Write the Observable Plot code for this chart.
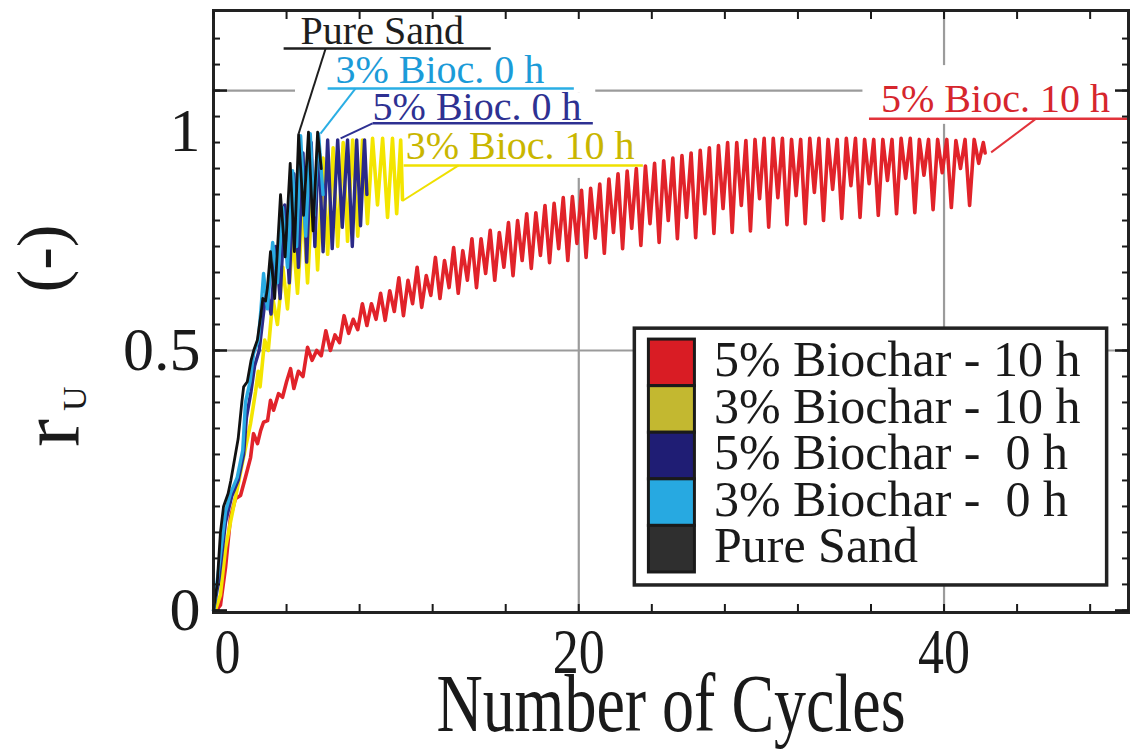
<!DOCTYPE html>
<html>
<head>
<meta charset="utf-8">
<script src="https://cdn.jsdelivr.net/npm/d3@7"></script>
<script src="https://cdn.jsdelivr.net/npm/@observablehq/plot@0.6"></script>
<style>
  html, body { margin: 0; padding: 0; background: #ffffff; }
  #chart svg { font-family: "Liberation Serif", "Times New Roman", serif; }
</style>
</head>
<body>
<div id="chart"></div>
<script>
// ---------------- DATA ----------------
const legendLabels = ["5% Biochar - 10 h", "3% Biochar - 10 h", "5% Biochar -\u00a0\u00a00 h", "3% Biochar -\u00a0\u00a00 h", "Pure Sand"];
const legendColors = ["#d91c24", "#c3b830", "#1f1d74", "#27a9e1", "#2f2f2f"];

// Pure sand
const sandCycles = [0, 0.2, 0.38, 0.55, 0.8, 0.95, 1.1, 1.35, 1.55, 1.65, 1.85, 2.05, 2.2, 2.4, 2.6, 2.7, 2.85, 2.95, 3.12, 3.35, 3.67, 3.92, 4.2, 4.43, 4.66, 4.93, 5.2, 5.45, 5.7, 5.9];
const sandRu     = [0, 0.05, 0.15, 0.2, 0.225, 0.25, 0.28, 0.33, 0.4, 0.43, 0.44, 0.48, 0.5, 0.52, 0.57, 0.6, 0.595, 0.62, 0.69, 0.6, 0.8, 0.68, 0.86, 0.69, 0.915, 0.76, 0.92, 0.73, 0.92, 0.85];

// 3% biochar, 0 h
const b3h0Cycles = [0, 0.25, 0.66, 0.93, 1.3, 1.6, 1.75, 2.0, 2.2, 2.45, 2.6, 2.74, 2.95, 3.24, 3.5, 3.78, 4.05, 4.33, 4.55, 4.77, 5.05, 5.3, 5.5, 5.75, 6.0];
const b3h0Ru     = [0, 0.07, 0.19, 0.225, 0.256, 0.308, 0.4, 0.44, 0.495, 0.52, 0.58, 0.648, 0.58, 0.708, 0.63, 0.775, 0.66, 0.846, 0.7, 0.913, 0.72, 0.917, 0.76, 0.917, 0.8];

// 5% biochar, 0 h
const b5h0Cycles = [0, 0.3, 0.66, 1.0, 1.35, 1.65, 1.8, 2.05, 2.25, 2.5, 2.7, 2.9, 3.15, 3.4, 3.65, 3.9, 4.15, 4.4, 4.65, 4.9, 5.1, 5.35, 5.55, 5.75, 6.0, 6.25, 6.5, 6.8, 7.05, 7.34, 7.6, 7.84, 8.05, 8.27, 8.4];
const b5h0Ru     = [0, 0.06, 0.17, 0.22, 0.25, 0.3, 0.37, 0.42, 0.47, 0.5, 0.56, 0.62, 0.57, 0.7, 0.6, 0.78, 0.63, 0.84, 0.66, 0.88, 0.67, 0.9, 0.7, 0.905, 0.69, 0.905, 0.696, 0.905, 0.737, 0.905, 0.70, 0.905, 0.74, 0.905, 0.8];

// 3% biochar, 10 h
const b3h10Cycles = [0.1, 0.38, 0.66, 0.93, 1.32, 1.64, 2.03, 2.3, 2.45, 2.55, 2.8, 3.0, 3.25, 3.5, 3.8, 4.05, 4.35, 4.6, 4.9, 5.15, 5.45, 5.7, 6.0, 6.25, 6.55, 6.8, 7.1, 7.34, 7.62, 7.9, 8.16, 8.43, 8.71, 8.98, 9.26, 9.53, 9.8, 10.03, 10.25, 10.35];
const b3h10Ru     = [0, 0.03, 0.12, 0.17, 0.237, 0.294, 0.36, 0.42, 0.46, 0.43, 0.52, 0.5, 0.6, 0.55, 0.66, 0.58, 0.72, 0.61, 0.78, 0.63, 0.83, 0.655, 0.87, 0.685, 0.89, 0.70, 0.9, 0.71, 0.905, 0.72, 0.905, 0.744, 0.908, 0.78, 0.908, 0.756, 0.908, 0.763, 0.905, 0.79];

// 5% biochar, 10 h : first cycles point by point
const b5h10EarlyCycles = [0.15, 0.38, 0.66, 0.93, 1.2, 1.48, 1.75, 2.03, 2.19, 2.41, 2.58, 2.74, 2.96, 3.12, 3.29, 3.56, 3.78, 4.0, 4.22];
const b5h10EarlyRu     = [0, 0.01, 0.083, 0.179, 0.215, 0.221, 0.256, 0.294, 0.34, 0.321, 0.346, 0.362, 0.365, 0.404, 0.385, 0.417, 0.41, 0.44, 0.465];
// then cycle by cycle (cycles 4 ... 41): deep trough, first peak, shallow trough, second peak
const b5h10FirstCycle = 4;
const b5h10Deep    = [0.427, 0.481, 0.50, 0.533, 0.548, 0.558, 0.567, 0.583, 0.60, 0.61, 0.621, 0.635, 0.644, 0.658, 0.669, 0.673, 0.679, 0.687, 0.696, 0.702, 0.708, 0.715, 0.717, 0.725, 0.727, 0.73, 0.737, 0.742, 0.744, 0.75, 0.754, 0.756, 0.76, 0.763, 0.765, 0.771, 0.775, 0.779];
const b5h10PeakA   = [0.46, 0.50, 0.53, 0.56, 0.59, 0.615, 0.635, 0.644, 0.673, 0.692, 0.715, 0.727, 0.75, 0.765, 0.783, 0.796, 0.812, 0.83, 0.845, 0.855, 0.865, 0.875, 0.885, 0.894, 0.90, 0.906, 0.908, 0.906, 0.908, 0.906, 0.908, 0.906, 0.906, 0.908, 0.906, 0.906, 0.904, 0.906];
const b5h10Shallow = [0.45, 0.49, 0.515, 0.54, 0.56, 0.575, 0.59, 0.606, 0.621, 0.635, 0.648, 0.66, 0.673, 0.683, 0.696, 0.706, 0.716, 0.727, 0.735, 0.744, 0.75, 0.756, 0.763, 0.773, 0.779, 0.792, 0.794, 0.798, 0.804, 0.81, 0.817, 0.821, 0.827, 0.831, 0.837, 0.842, 0.85, 0.86];
const b5h10PeakB   = [0.506, 0.538, 0.567, 0.59, 0.61, 0.64, 0.66, 0.679, 0.698, 0.715, 0.731, 0.746, 0.763, 0.779, 0.794, 0.808, 0.82, 0.84, 0.85, 0.86, 0.87, 0.88, 0.89, 0.90, 0.904, 0.908, 0.908, 0.906, 0.908, 0.906, 0.908, 0.906, 0.906, 0.908, 0.906, 0.906, 0.906, 0.9];
const b5h10End = [42.25, 0.88];

// annotations (cycles, r_U)
const annLabels = ["Pure Sand", "3% Bioc. 0 h", "5% Bioc. 0 h", "3% Bioc. 10 h", "5% Bioc. 10 h"];
const annTextColors = ["#1e1e1e", "#1b9bd8", "#2e3192", "#c9b600", "#d6262d"];
const annLineColors = ["#1e1e1e", "#2aaee4", "#2e3192", "#efe000", "#e2333b"];
const annTextX = [4.77, 6.68, 8.71, 10.52, 36.55];
const annTextY = [1.09, 1.015, 0.944, 0.869, 0.958];
const annUnderX1 = [3.84, 6.25, 8.71, 10.41, 35.89];
const annUnderX2 = [15.18, 19.73, 20.77, 23.51, 50.1];
const annUnderY = [1.081, 1.004, 0.937, 0.856, 0.946];
const annLeadX1 = [6.14, 7.78, 8.71, 13.42, 45.04];
const annLeadX2 = [4.66, 5.86, 6.96, 10.36, 42.58];
const annLeadY2 = [0.917, 0.917, 0.908, 0.788, 0.881];
const annBoxX1 = [3.84, 4.49, 8.33, 10.25, 35.56];
const annBoxX2 = [15.18, 20.93, 20.93, 23.67, 50.1];
const annBoxY1 = [1.077, 0.996, 0.927, 0.831, 0.935];
const annBoxY2 = [1.15, 1.154, 0.996, 0.927, 1.048];

// axes
const xDomain = [0, 50.1];
const yDomain = [-0.004, 1.154];
const xTickLabels = [0, 20, 40];
const yTickLabels = [0, 0.5, 1];
const xGrid = [20, 40];
const yGrid = [0.5, 1];
const xTitle = "Number of Cycles";

// ---------------- BUILD ----------------
const toPoints = (xs, ys) => xs.map((x, i) => ({x, y: ys[i]}));
const sand = toPoints(sandCycles, sandRu);
const b3h0 = toPoints(b3h0Cycles, b3h0Ru);
const b5h0 = toPoints(b5h0Cycles, b5h0Ru);
const b3h10 = toPoints(b3h10Cycles, b3h10Ru);
const b5h10 = toPoints(b5h10EarlyCycles, b5h10EarlyRu);
b5h10Deep.forEach((d, i) => {
  const c = b5h10FirstCycle + i;
  b5h10.push({x: c + 0.4, y: d});
  b5h10.push({x: c + 0.65, y: b5h10PeakA[i]});
  b5h10.push({x: c + 0.9, y: b5h10Shallow[i]});
  b5h10.push({x: c + 1.15, y: b5h10PeakB[i]});
});
b5h10.push({x: b5h10End[0], y: b5h10End[1]});

const ann = annLabels.map((label, i) => ({
  label, tc: annTextColors[i], lc: annLineColors[i],
  tx: annTextX[i], ty: annTextY[i],
  ux1: annUnderX1[i], ux2: annUnderX2[i], uy: annUnderY[i],
  lx1: annLeadX1[i], ly1: annUnderY[i], lx2: annLeadX2[i], ly2: annLeadY2[i],
  bx1: annBoxX1[i], bx2: annBoxX2[i], by1: annBoxY1[i], by2: annBoxY2[i]
}));

// legend layout inside the frame, in data units
const legendBox = [{x1: 23.07, x2: 48.93, y1: 0.048, y2: 0.542}];
const legendRowTop = 0.521, legendRowH = 0.0896;
const legendItems = legendLabels.map((label, i) => ({
  label, color: legendColors[i],
  y1: legendRowTop - (i + 1) * legendRowH, y2: legendRowTop - i * legendRowH,
  yText: legendRowTop - i * legendRowH - 0.07
}));

const xMinor = d3.range(0, 50.01, 4);
const yMinor = d3.range(0, 23).map(k => k * 0.05);

const plot = Plot.plot({
  width: 1140,
  height: 749,
  marginLeft: 213, marginRight: 12, marginTop: 10, marginBottom: 137,
  x: {domain: xDomain},
  y: {domain: yDomain},
  style: {fontFamily: "'Liberation Serif', 'Times New Roman', serif", background: "#ffffff", color: "#1a1a1a"},
  marks: [
    Plot.gridX(xGrid, {stroke: "#9b9b9b", strokeOpacity: 1, strokeWidth: 2.2}),
    Plot.gridY(yGrid, {stroke: "#9b9b9b", strokeOpacity: 1, strokeWidth: 2.2}),
    Plot.rect(ann, {x1: "bx1", x2: "bx2", y1: "by1", y2: "by2", fill: "#ffffff"}),
    Plot.line(b5h10, {x: "x", y: "y", stroke: "#e1232a", strokeWidth: 3.6}),
    Plot.line(b3h10, {x: "x", y: "y", stroke: "#f3e500", strokeWidth: 3.6}),
    Plot.line(b5h0, {x: "x", y: "y", stroke: "#2b2a88", strokeWidth: 3.4}),
    Plot.line(b3h0, {x: "x", y: "y", stroke: "#29abe2", strokeWidth: 3.4}),
    Plot.line(sand, {x: "x", y: "y", stroke: "#111111", strokeWidth: 2.8}),
    Plot.link(ann, {x1: "ux1", x2: "ux2", y1: "uy", y2: "uy", stroke: "lc", strokeWidth: 2.5}),
    Plot.link(ann, {x1: "lx1", y1: "ly1", x2: "lx2", y2: "ly2", stroke: "lc", strokeWidth: 2}),
    Plot.text(ann, {x: "tx", y: "ty", text: "label", fill: "tc", fontSize: 40, textAnchor: "start", lineAnchor: "bottom"}),
    // legend
    Plot.rect(legendBox, {x1: "x1", x2: "x2", y1: "y1", y2: "y2", fill: "#ffffff", stroke: "#222222", strokeWidth: 3.5}),
    Plot.rect(legendItems, {x1: 23.84, x2: 26.36, y1: "y1", y2: "y2", fill: "color", stroke: "#1a1a1a", strokeWidth: 3}),
    Plot.text(legendItems, {x: 27.4, y: "yText", text: "label", fontSize: 50, textAnchor: "start", lineAnchor: "bottom", fill: "#1a1a1a"}),
    // frame and ticks
    Plot.frame({stroke: "#222222", strokeWidth: 3}),
    Plot.axisX({anchor: "bottom", ticks: xMinor, tickSize: -8, tickFormat: () => "", strokeWidth: 2, label: null}),
    Plot.axisX({anchor: "top", ticks: xMinor, tickSize: -8, tickFormat: () => "", strokeWidth: 2, label: null}),
    Plot.axisY({anchor: "left", ticks: yMinor, tickSize: -7, tickFormat: () => "", strokeWidth: 2, label: null}),
    Plot.axisY({anchor: "right", ticks: yMinor, tickSize: -7, tickFormat: () => "", strokeWidth: 2, label: null}),
    Plot.axisY({anchor: "left", ticks: yTickLabels, tickSize: -14, tickFormat: () => "", strokeWidth: 2.5, label: null}),
    Plot.axisY({anchor: "right", ticks: yTickLabels, tickSize: -14, tickFormat: () => "", strokeWidth: 2.5, label: null}),
    // tick labels
    Plot.text(xTickLabels.filter(d => d !== 0), {x: d => d, frameAnchor: "bottom", dy: 60, lineAnchor: "bottom", text: d => String(d), fontSize: 52, fill: "#1a1a1a", className: "stretch-x"}),
    Plot.text(xTickLabels.filter(d => d === 0), {x: d => d, frameAnchor: "bottom", dy: 60, dx: 14, lineAnchor: "bottom", text: d => String(d), fontSize: 52, fill: "#1a1a1a", className: "stretch-x"}),
    Plot.text(yTickLabels.filter(d => d !== 1), {y: d => d, frameAnchor: "left", dx: -13, textAnchor: "end", text: d => String(d), fontSize: 62, fill: "#1a1a1a"}),
    Plot.text(yTickLabels.filter(d => d === 1), {y: d => d, frameAnchor: "left", dx: -13, dy: 41, textAnchor: "end", text: d => String(d), fontSize: 62, fill: "#1a1a1a"}),
    Plot.text([xTitle], {frameAnchor: "bottom", dy: 118, text: d => d, fontSize: 64, fill: "#1a1a1a", lineAnchor: "bottom", className: "stretch-t"})
  ]
});

const svg = d3.select(plot);
// vertical stretch of the x-axis texts, as in the reference
svg.selectAll(".stretch-x text").each(function () {
  this.setAttribute("transform", (this.getAttribute("transform") || "") + " scale(1,1.22)");
});
svg.selectAll(".stretch-t text").each(function () {
  this.setAttribute("transform", (this.getAttribute("transform") || "") + " scale(1,1.28)");
});
// y axis title with subscript
const yt = svg.append("text")
  .attr("transform", "translate(78,447) rotate(-90)")
  .attr("text-anchor", "start")
  .attr("fill", "#1a1a1a");
yt.append("tspan").attr("font-size", 84).text("r");
yt.append("tspan").attr("font-size", 34).attr("dx", 8).attr("dy", 8).text("U");
yt.append("tspan").attr("font-size", 68).attr("dx", 94).attr("dy", -22).text("(-)");

document.getElementById("chart").appendChild(plot);
</script>
</body>
</html>
